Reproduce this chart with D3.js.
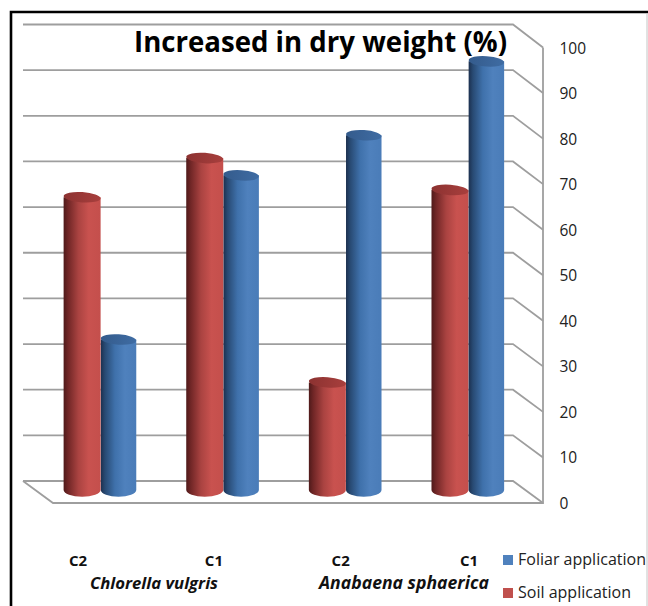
<!DOCTYPE html>
<html><head><meta charset="utf-8">
<script src="https://cdn.jsdelivr.net/npm/d3@7/dist/d3.min.js"></script>
<style>html,body{margin:0;padding:0;background:#fff;overflow:hidden}svg{display:block}text{font-family:"Open Sans",sans-serif}</style>
</head><body><div id="c"></div>
<script>
const categories = ["C2a","C1a","C2b","C1b"];
const categoryLabels = ["C2","C1","C2","C1"];
const soil = [64.2, 72.8, 23.6, 65.8];
const foliar = [33, 69, 77.8, 94];
const ticks = [0,10,20,30,40,50,60,70,80,90,100];
const species = ["Chlorella vulgris","Anabaena sphaerica"];
const seriesNames = ["Foliar application","Soil application"];

const W=648,H=606;
const svg=d3.select("#c").append("svg").attr("width",W).attr("height",H);
const defs=svg.append("defs");
function grad(id,stops){
  const g=defs.append("linearGradient").attr("id",id).attr("x1",0).attr("x2",1).attr("y1",0).attr("y2",0);
  stops.forEach(s=>g.append("stop").attr("offset",s[0]).attr("stop-color",s[1]));
}
grad("red",[[0,"#4f1a1a"],[0.12,"#702626"],[0.4,"#aa4341"],[0.68,"#c9524f"],[1,"#c44f4c"]]);
grad("blue",[[0,"#1c304f"],[0.12,"#284a73"],[0.4,"#3f71ab"],[0.68,"#4f81bd"],[1,"#4a7cb8"]]);
grad("redTop",[[0,"#8c3231"],[1,"#a83f3d"]]);
grad("blueTop",[[0,"#345b8c"],[1,"#3f6ca3"]]);

// frame
svg.append("path").attr("d","M11,606V12H648").attr("fill","none").attr("stroke","#000").attr("stroke-width",2.6);
svg.append("path").attr("d","M647,13V606").attr("fill","none").attr("stroke","#c4c4c4").attr("stroke-width",1);

// axes scales
const yFront=d3.scaleLinear().domain([0,100]).range([503,47.5]);
const yBack=d3.scaleLinear().domain([0,100]).range([481,24.5]);
const yBar=d3.scaleLinear().domain([0,100]).range([490,34]);
const grid="#9e9e9e";
const xBack0=23,xBack1=513,xFront0=53,xFront1=543;
const g=svg.append("g").attr("fill","none").attr("stroke",grid).attr("stroke-width",1.8);
ticks.forEach(t=>{
  g.append("path").attr("d",`M${xBack0},${yBack(t)}H${xBack1}L${xFront1},${yFront(t)}`);
});
g.append("path").attr("d",`M${xFront1},${yFront(100)}V${yFront(0)}H${xFront0}L${xBack0},${yBack(0)}`);

// tick labels
svg.append("g").selectAll("text").data(ticks).join("text")
  .attr("x",559.5).attr("y",t=>yFront(t)+6)
  .attr("font-size",15.5).attr("fill","#222").text(d=>d);

// bars
const x=d3.scaleBand().domain(categories).range([39,529.5]);
function cyl(sel,cx,val,color,top,bw){
  const ry=5.2, yt=yBar(val), yb=yBar(0), l=cx-bw/2, r=cx+bw/2, rx=bw/2;
  sel.append("path").attr("d",`M${l},${yt}V${yb}A${rx},${ry+1.5} 0 0 0 ${r},${yb}V${yt}Z`).attr("fill",`url(#${color})`);
  sel.append("ellipse").attr("cx",cx).attr("cy",yt).attr("rx",rx).attr("ry",ry)
    .attr("transform",`rotate(4 ${cx} ${yt})`).attr("fill",`url(#${top})`);
}
const bars=svg.append("g");
categories.forEach((c,i)=>{
  const mid=x(c)+x.bandwidth()/2;
  const drawRed=()=>cyl(bars.append("g"),mid-18.2,soil[i],"red","redTop",37);
  const drawBlue=()=>cyl(bars.append("g"),mid+18.2,foliar[i],"blue","blueTop",35.5);
  if(foliar[i]<soil[i]){ drawBlue(); drawRed(); } else { drawRed(); drawBlue(); }
});

// category labels
const labelX=d3.scalePoint().domain(categories).range([78,469]);
svg.append("g").selectAll("text").data(categories).join("text")
  .attr("x",c=>labelX(c)+(c==="C1a"?5.6:c==="C2b"?2:0)).attr("y",566)
  .attr("text-anchor","middle").attr("font-size",15).attr("font-weight",700).attr("fill","#111")
  .text((c,i)=>categoryLabels[i]);

// species
svg.append("text").attr("x",90).attr("y",589).attr("font-size",16).attr("textLength",128).attr("lengthAdjust","spacingAndGlyphs").attr("font-weight",700).attr("font-style","italic").attr("fill","#111").text(species[0]);
svg.append("text").attr("x",319).attr("y",589).attr("font-size",17.5).attr("textLength",170).attr("lengthAdjust","spacingAndGlyphs").attr("font-weight",700).attr("font-style","italic").attr("fill","#111").text(species[1]);

// legend
const legColors=["#4f81bd","#c0504d"], legY=[560,593];
const legW=[128,113];
seriesNames.forEach((n,i)=>{
  svg.append("rect").attr("x",503).attr("y",legY[i]-5).attr("width",10).attr("height",10).attr("fill",legColors[i]);
  svg.append("text").attr("x",518).attr("y",legY[i]+5).attr("font-size",16).attr("textLength",legW[i]).attr("lengthAdjust","spacingAndGlyphs").attr("fill","#222").text(n);
});

// title
svg.append("text").attr("x",134).attr("y",52).attr("font-size",29).attr("textLength",373).attr("lengthAdjust","spacingAndGlyphs").attr("font-weight",700).attr("fill","#000").text("Increased in dry weight (%)");
</script></body></html>
